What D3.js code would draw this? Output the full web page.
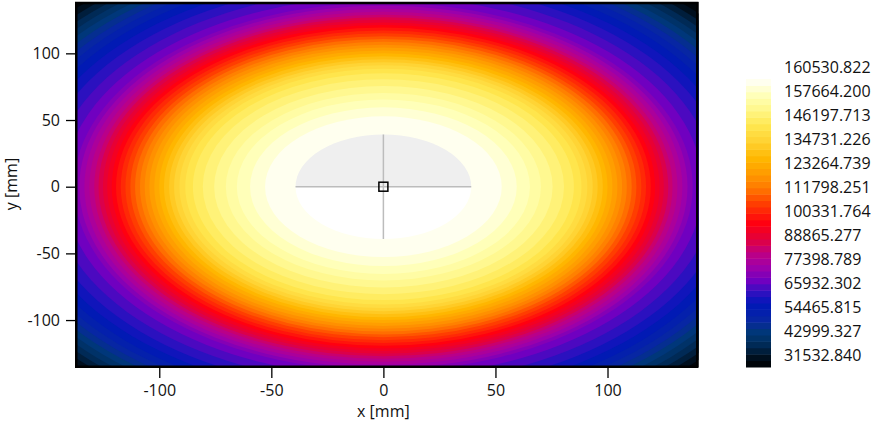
<!DOCTYPE html>
<html>
<head>
<meta charset="utf-8">
<script src="https://cdn.jsdelivr.net/npm/d3@7"></script>
<style>
body { margin: 0; background: #fff; }
svg text { font-family: "Open Sans", "Noto Sans", sans-serif; font-size: 16px; fill: #111; }
</style>
</head>
<body>
<script>
// field range and colour bar labels
var zRange = [31532.840, 160530.822];
var colorbarLabels = [160530.822, 157664.200, 146197.713, 134731.226, 123264.739, 111798.251,
    100331.764, 88865.277, 77398.789, 65932.302, 54465.815, 42999.327, 31532.840];

// radius [mm] at which the field crosses each contour level (lowest level first)
var levelRadius = [215, 191.5, 188.0, 184.5, 181.0, 177.5, 174.0, 170.5, 167.0, 163.0,
    158.5, 153.5, 148.0, 142.5, 138.0, 135.7, 133.4, 131.2, 129.0, 127.1,
    125.1, 123.2, 121.2, 119.3, 117.2, 115.1, 112.9, 110.8, 108.6, 106.5,
    104.4, 102.2, 100.0, 97.9, 95.6, 93.4, 91.0, 88.4, 85.0, 80.6,
    75.5, 70.3, 65.4, 59.5, 52.8, 0];

// colour map (position in range 0..1 -> colour)
var colorStops = [0, 0.035, 0.07, 0.12, 0.16, 0.22, 0.26, 0.30, 0.35, 0.40, 0.44, 0.50,
    0.57, 0.62, 0.667, 0.725, 0.78, 0.84, 0.90, 0.944, 0.99, 1];
var colorStopColors = ["#000000", "#001020", "#002850", "#003878", "#0828a0", "#0018b8",
    "#3010c0", "#7000c0", "#a000a8", "#c00080", "#e00040", "#ff0010",
    "#ff4000", "#ff7800", "#ff9800", "#ffb800", "#ffd030", "#ffe850", "#fff890",
    "#ffffb8", "#fffff0", "#ffffff"];

var xTicks = [-100, -50, 0, 50, 100];
var yTicks = [-100, -50, 0, 50, 100];
var centerRadius = 39.2;   // inspected region [mm]

var W = 873, H = 421;
var svg = d3.select('body').append('svg')
    .attr('width', W)
    .attr('height', H);

var xScale = d3.scaleLinear().domain([-137.6, 140.6]).range([75, 698.5]);
var yScale = d3.scaleLinear().domain([-135.2, 138.5]).range([367, 2]);

var nLevels = levelRadius.length - 1;
var levelValue = d3.scaleLinear().domain([0, nLevels]).range(zRange);
var fracToZ = d3.scaleLinear().range(zRange);
var colorScale = d3.scaleLinear()
    .domain(colorStops.map(fracToZ))
    .range(colorStopColors)
    .interpolate(d3.interpolateRgb);

function bandColor(k) {
    return colorScale(levelValue(k + 0.5));
}

// clip to plot area
svg.append('clipPath').attr('id', 'plotclip')
    .append('rect')
    .attr('x', xScale.range()[0])
    .attr('y', yScale.range()[1])
    .attr('width', xScale.range()[1] - xScale.range()[0])
    .attr('height', yScale.range()[0] - yScale.range()[1]);

var plot = svg.append('g').attr('clip-path', 'url(#plotclip)');

// filled contour bands, outermost first
plot.selectAll('ellipse.band')
    .data(d3.range(nLevels))
    .enter()
    .append('ellipse')
    .attr('class', 'band')
    .attr('cx', xScale(0))
    .attr('cy', yScale(0))
    .attr('rx', function (k) { return xScale(levelRadius[k]) - xScale(0); })
    .attr('ry', function (k) { return yScale(0) - yScale(levelRadius[k]); })
    .attr('fill', function (k) { return bandColor(k); });

// inspected region: upper half grey, lower half white
var rx = xScale(centerRadius) - xScale(0);
var ry = yScale(0) - yScale(centerRadius);
var x0 = xScale(0), y0 = yScale(0);
plot.append('path')
    .attr('d', 'M' + (x0 - rx) + ',' + y0 + ' A' + rx + ',' + ry + ' 0 0 1 ' + (x0 + rx) + ',' + y0 + ' Z')
    .attr('fill', '#efefef');
plot.append('path')
    .attr('d', 'M' + (x0 - rx) + ',' + y0 + ' A' + rx + ',' + ry + ' 0 0 0 ' + (x0 + rx) + ',' + y0 + ' Z')
    .attr('fill', '#ffffff');

// crosshair
plot.append('line')
    .attr('x1', xScale(-centerRadius)).attr('x2', xScale(centerRadius))
    .attr('y1', y0).attr('y2', y0)
    .attr('stroke', '#bcbcbc').attr('stroke-width', 1.5);
plot.append('line')
    .attr('x1', x0).attr('x2', x0)
    .attr('y1', yScale(centerRadius)).attr('y2', yScale(-centerRadius))
    .attr('stroke', '#bcbcbc').attr('stroke-width', 1.5);
plot.append('rect')
    .attr('x', x0 - 4.5).attr('y', y0 - 4.5)
    .attr('width', 9).attr('height', 9)
    .attr('fill', 'none')
    .attr('stroke', '#000').attr('stroke-width', 1.5);

// frame
svg.append('rect')
    .attr('x', xScale.range()[0] + 1.25)
    .attr('y', yScale.range()[1] + 1)
    .attr('width', xScale.range()[1] - xScale.range()[0] - 2.5)
    .attr('height', yScale.range()[0] - yScale.range()[1] - 1.25)
    .attr('fill', 'none')
    .attr('stroke', '#000')
    .attr('stroke-width', 2.5);

// axes (plain hyphen as minus sign, like the original)
var tickFmt = function (d) { return String(d); };
var xAxis = d3.axisBottom(xScale).tickValues(xTicks).tickSize(11).tickPadding(6.5)
    .tickFormat(tickFmt);
var yAxis = d3.axisLeft(yScale).tickValues(yTicks).tickSize(9).tickPadding(6)
    .tickFormat(tickFmt);

var gx = svg.append('g')
    .attr('transform', 'translate(0,' + yScale.range()[0] + ')')
    .call(xAxis);
var gy = svg.append('g')
    .attr('transform', 'translate(' + xScale.range()[0] + ',0)')
    .call(yAxis);

[gx, gy].forEach(function (g) {
    g.attr('font-family', null).attr('font-size', null);
    g.select('.domain').remove();
    g.selectAll('.tick line').attr('stroke', '#000').attr('stroke-width', 1.3);
    g.selectAll('.tick text').attr('fill', null);
});

// axis labels
svg.append('text')
    .attr('x', xScale(0))
    .attr('y', 417)
    .style('text-anchor', 'middle')
    .text('x [mm]');
svg.append('text')
    .attr('transform', 'translate(16.5,184) rotate(-90)')
    .style('text-anchor', 'middle')
    .text('y [mm]');

// colour bar
var cbScale = d3.scaleLinear().domain(zRange).range([367, 79]);
var cb = svg.append('g');
cb.selectAll('rect')
    .data(d3.range(nLevels))
    .enter()
    .append('rect')
    .attr('x', 746)
    .attr('width', 25)
    .attr('y', function (k) { return cbScale(levelValue(k + 1)); })
    .attr('height', function (k) { return cbScale(levelValue(k)) - cbScale(levelValue(k + 1)) + 0.5; })
    .attr('fill', function (k) { return bandColor(k); });

var labelScale = d3.scalePoint()
    .domain(colorbarLabels.map(String))
    .range([67, 355]);
cb.selectAll('text')
    .data(colorbarLabels)
    .enter()
    .append('text')
    .attr('x', 784)
    .attr('y', function (d) { return labelScale(String(d)); })
    .attr('dy', '0.35em')
    .text(function (d) { return d3.format('.3f')(d); });
</script>
</body>
</html>
